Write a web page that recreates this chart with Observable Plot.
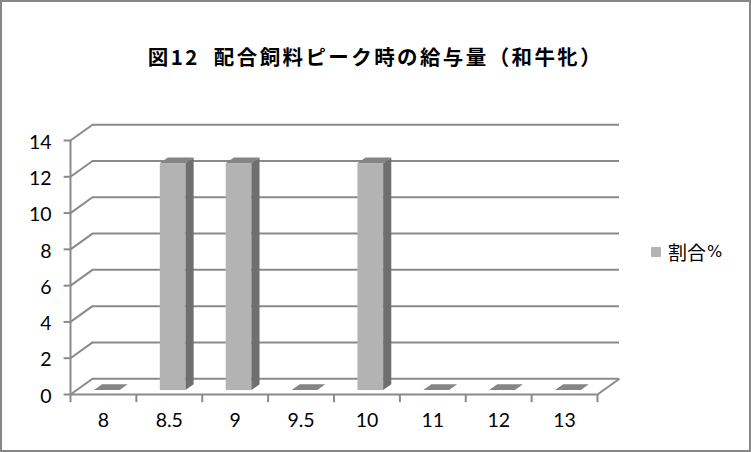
<!DOCTYPE html>
<html><head><meta charset="utf-8">
<script src="https://cdn.jsdelivr.net/npm/d3@7"></script>
<script src="https://cdn.jsdelivr.net/npm/@observablehq/plot@0.6"></script>
<style>
html,body{margin:0;padding:0;background:#fff;}
#wrap{position:relative;width:751px;height:452px;box-sizing:border-box;overflow:hidden;}
#frame{position:absolute;left:0;top:0;width:751px;height:452px;box-sizing:border-box;border:2px solid #878787;pointer-events:none;}
#title{position:absolute;left:0;top:40px;width:751px;text-align:center;font-family:"Noto Sans CJK JP",sans-serif;font-weight:bold;font-size:20.5px;letter-spacing:2.4px;color:#000;line-height:32px;}
#legend{position:absolute;left:651px;top:238px;font-family:"Noto Sans CJK JP",sans-serif;font-size:19px;color:#000;display:flex;align-items:center;}
#legend .sw{display:inline-block;width:10px;height:10px;background:#b3b3b3;margin-right:7px;}
#legend .pc{font-family:"DejaVu Sans",sans-serif;font-size:16px;margin-left:1px;}
#chart{position:absolute;left:0;top:0;}
</style></head>
<body>
<div id="wrap">
  <div id="chart"></div>
  <div id="title">図12&nbsp;&nbsp;配合飼料ピーク時の給与量（和牛牝）</div>
  <div id="legend"><span class="sw"></span><span>割合</span><span class="pc">%</span></div>
  <div id="frame"></div>
</div>
<script>
const categories = ["8", "8.5", "9", "9.5", "10", "11", "12", "13"];
const values = [0, 12.5, 12.5, 0, 12.5, 0, 0, 0];
const yTicks = [0, 2, 4, 6, 8, 10, 12, 14];

// pseudo-3D geometry, in data units
const DX = 0.334, DY = 0.87;      // depth of the back wall
const BW = 0.39;                  // bar front width
const BF = 0.25;                  // bar front depth fraction
const BD = 0.37;                  // bar depth fraction

const bars = categories.map((c, i) => {
  const xl = i - 0.2 + BF * DX - 0.02;
  return {c, v: values[i], xl, xr: xl + BW, yb: BF * DY, yt: values[i] + BF * DY};
});
const sidePts = bars.filter(b => b.v > 0).flatMap(b => [
  {c: b.c, x: b.xr, y1: b.yb, y2: b.yt},
  {c: b.c, x: b.xr + BD * DX, y1: b.yb + BD * DY, y2: b.yt + BD * DY}
]);
const topPts = bars.flatMap(b => [
  {c: b.c, y: b.yt, x1: b.xl, x2: b.xr},
  {c: b.c, y: b.yt + BD * DY, x1: b.xl + BD * DX, x2: b.xr + BD * DX}
]);
const idx = categories.map((c, i) => i);
const bounds = d3.range(-0.5, categories.length, 1);
const grid = "#8a8a8a";
const font = "Lato, 'Noto Sans', sans-serif";

const plot = Plot.plot({
  width: 751, height: 452,
  marginLeft: 70, marginRight: 154, marginTop: 140, marginBottom: 58,
  x: {type: "linear", domain: [-0.5, 7.5], axis: null},
  y: {type: "linear", domain: [0, 14], axis: null},
  style: {fontFamily: font, background: "transparent"},
  marks: [
    Plot.ruleY(yTicks, {y: d => d + DY, x1: -0.5 + DX, x2: 7.5 + DX, stroke: grid, strokeWidth: 2}),
    Plot.link(yTicks, {x1: -0.5, y1: d => d, x2: -0.5 + DX, y2: d => d + DY, stroke: grid, strokeWidth: 2}),
    Plot.link([0], {x1: 7.5, y1: 0, x2: 7.5 + DX, y2: DY, stroke: grid, strokeWidth: 2}),
    Plot.rect(bars.filter(b => b.v > 0), {x1: "xl", x2: "xr", y1: "yb", y2: "yt", fill: "#b3b3b3"}),
    Plot.areaY(sidePts, {x: "x", y1: "y1", y2: "y2", z: "c", fill: "#6f6f6f", curve: "linear"}),
    Plot.areaX(topPts, {y: "y", x1: "x1", x2: "x2", z: "c", fill: "#858585", curve: "linear"}),
    Plot.ruleX([-0.5], {y1: 0, y2: 14, stroke: grid, strokeWidth: 2}),
    Plot.ruleY([0], {x1: -0.5, x2: 7.5, stroke: grid, strokeWidth: 2}),
    Plot.ruleX(bounds, {y1: 0, y2: -0.45, stroke: grid, strokeWidth: 2}),
    Plot.link(yTicks, {x1: -0.5 - 0.105, y1: d => d, x2: -0.5, y2: d => d, stroke: grid, strokeWidth: 2}),
    Plot.text(yTicks, {x: -0.5, y: d => d, text: d => String(d), textAnchor: "end", dx: -19, dy: 2, fontSize: 19.5, fill: "#000", fontFamily: font}),
    Plot.text(idx, {x: d => d, y: 0, text: d => categories[d], dy: 26, fontSize: 19.5, fill: "#000", fontFamily: font})
  ]
});
document.getElementById("chart").appendChild(plot);
</script>
</body></html>
